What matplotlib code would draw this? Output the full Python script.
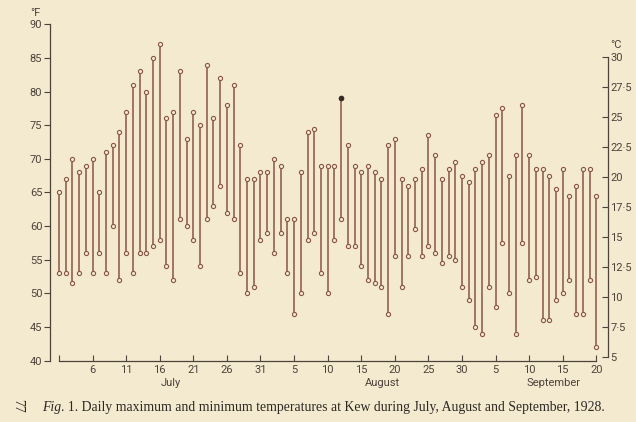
import numpy as np
import matplotlib
matplotlib.use("Agg")
import matplotlib.pyplot as plt
from matplotlib.ticker import FixedLocator, FuncFormatter

# daily max / min temperatures (deg F), 1 Jul -> 20 Sep
t_max = [65, 67, 70, 68, 69, 70, 65, 71, 72, 74, 77, 81, 83, 80, 85, 87,
         76, 77, 83, 73, 77, 75, 84, 76, 82, 78, 81, 72, 67, 67, 68,
         68, 70, 69, 61, 61, 68, 74, 74.5, 69, 69, 69, 79, 72, 69, 68, 69,
         68, 67, 72, 73, 67, 66, 67, 68.5, 73.5, 70.5, 67, 68.5, 69.5, 67.5,
         66.5, 68.5, 69.5, 70.5, 76.5, 77.5, 67.5, 70.5, 78, 70.5, 68.5,
         68.5, 67.5, 65.5, 68.5, 64.5, 66, 68.5, 68.5, 64.5]
t_min = [53, 53, 51.5, 53, 56, 53, 56, 53, 60, 52, 56, 53, 56, 56, 57, 58,
         54, 52, 61, 60, 58, 54, 61, 63, 66, 62, 61, 53, 50, 51, 58,
         59, 56, 59, 53, 47, 50, 58, 59, 53, 50, 58, 61, 57, 57, 54, 52,
         51.5, 51, 47, 55.5, 51, 55.5, 59.5, 55.5, 57, 56, 54.5, 55.5, 55, 51,
         49, 45, 44, 51, 48, 57.5, 50, 44, 57.5, 52, 52.5,
         46, 46, 49, 50, 52, 47, 47, 52, 42]
days = np.arange(1, len(t_max) + 1)
filled_top = [43]  # the one day printed with a solid dot

tick_days = list(range(6, 82, 5))
tick_labels = ["6", "11", "16", "21", "26", "31", "5", "10", "15", "20",
               "25", "30", "5", "10", "15", "20"]
months = ["July", "August", "September"]
month_pos = [17.7, 49.2, 74.6]

bg = "#f3ead0"
ink = "#4d433b"
line_col = "#8a5546"

plt.rcParams['font.family'] = ['Roboto', 'DejaVu Sans']

fig = plt.figure(figsize=(6.36, 4.22), dpi=100, facecolor=bg)
ax = fig.add_axes([0.0786, 0.1453, 0.8774, 0.7971])
ax.set_facecolor(bg)

ax.vlines(days, t_min, t_max, color=line_col, lw=1.1)
ax.plot(days, t_max, 'o', ms=3.0, mfc=bg, mec=line_col, mew=0.8)
ax.plot(days, t_min, 'o', ms=3.0, mfc=bg, mec=line_col, mew=0.8)
idx = np.array(filled_top) - 1
ax.plot(days[idx], np.array(t_max)[idx], 'o', ms=3.0, mfc="#3a2a25", mec="#3a2a25")

ax.set_xlim(-0.34, 82.74)
ax.set_ylim(40, 90)
ax.set_yticks(range(40, 91, 5))
ax.xaxis.set_major_locator(FixedLocator(tick_days))
ax.set_xticklabels(tick_labels)
ax.xaxis.set_minor_locator(FixedLocator([1]))

for s in ['top', 'right']:
    ax.spines[s].set_visible(False)
ax.spines['left'].set_bounds(40, 90)
ax.spines['bottom'].set_bounds(1, 81)
for s in ['left', 'bottom']:
    ax.spines[s].set_color(ink)
    ax.spines[s].set_linewidth(0.9)

ax.tick_params(axis='y', direction='out', length=4, width=0.8, colors=ink,
               labelsize=8, pad=1.5)
ax.tick_params(axis='x', which='both', direction='in', length=4, width=0.8,
               colors=ink, labelsize=8, pad=3)

# Celsius scale on the right
ax2 = ax.twinx()
ax2.set_ylim(4.717, 32.69)
for s in ['top', 'left', 'bottom']:
    ax2.spines[s].set_visible(False)
ax2.spines['right'].set_bounds(5, 30)
ax2.spines['right'].set_color(ink)
ax2.spines['right'].set_linewidth(0.9)
ax2.set_yticks(np.arange(5, 30.1, 2.5))
ax2.yaxis.set_major_formatter(FuncFormatter(
    lambda v, p: "%d" % v if v == int(v) else ("%.1f" % v).replace(".", "\u00b7")))
ax2.tick_params(axis='y', direction='in', length=4, width=0.8, colors=ink,
                labelsize=8, pad=1.5)

ax.text(-0.036, 1.034, "°F", transform=ax.transAxes, ha='left', va='center',
        fontsize=8, color=ink)
ax.text(1.0036, 0.9385, "°C", transform=ax.transAxes, ha='left', va='center',
        fontsize=8, color=ink)

trans = ax.get_xaxis_transform()
for m, x in zip(months, month_pos):
    ax.text(x, -0.066, m, transform=trans, ha='center', va='center',
            fontsize=8, color=ink)

cap = fig.text(0.066, 0.0355, "Fig", ha='left', va='center', fontsize=9.9,
               family='Liberation Serif', style='italic', color="#2e2824")
ax.annotate(". 1. Daily maximum and minimum temperatures at Kew during July, "
            "August and September, 1928.", xy=(1, 0), xycoords=cap,
            ha='left', va='bottom', fontsize=9.9, family='Liberation Serif',
            color="#2e2824", annotation_clip=False)
fig.text(0.027, 0.038, "77", rotation=-90, ha='center', va='center',
         fontsize=10, family='Liberation Serif', color="#2e2824")

fig.savefig("out.png", dpi=100, facecolor=bg)
